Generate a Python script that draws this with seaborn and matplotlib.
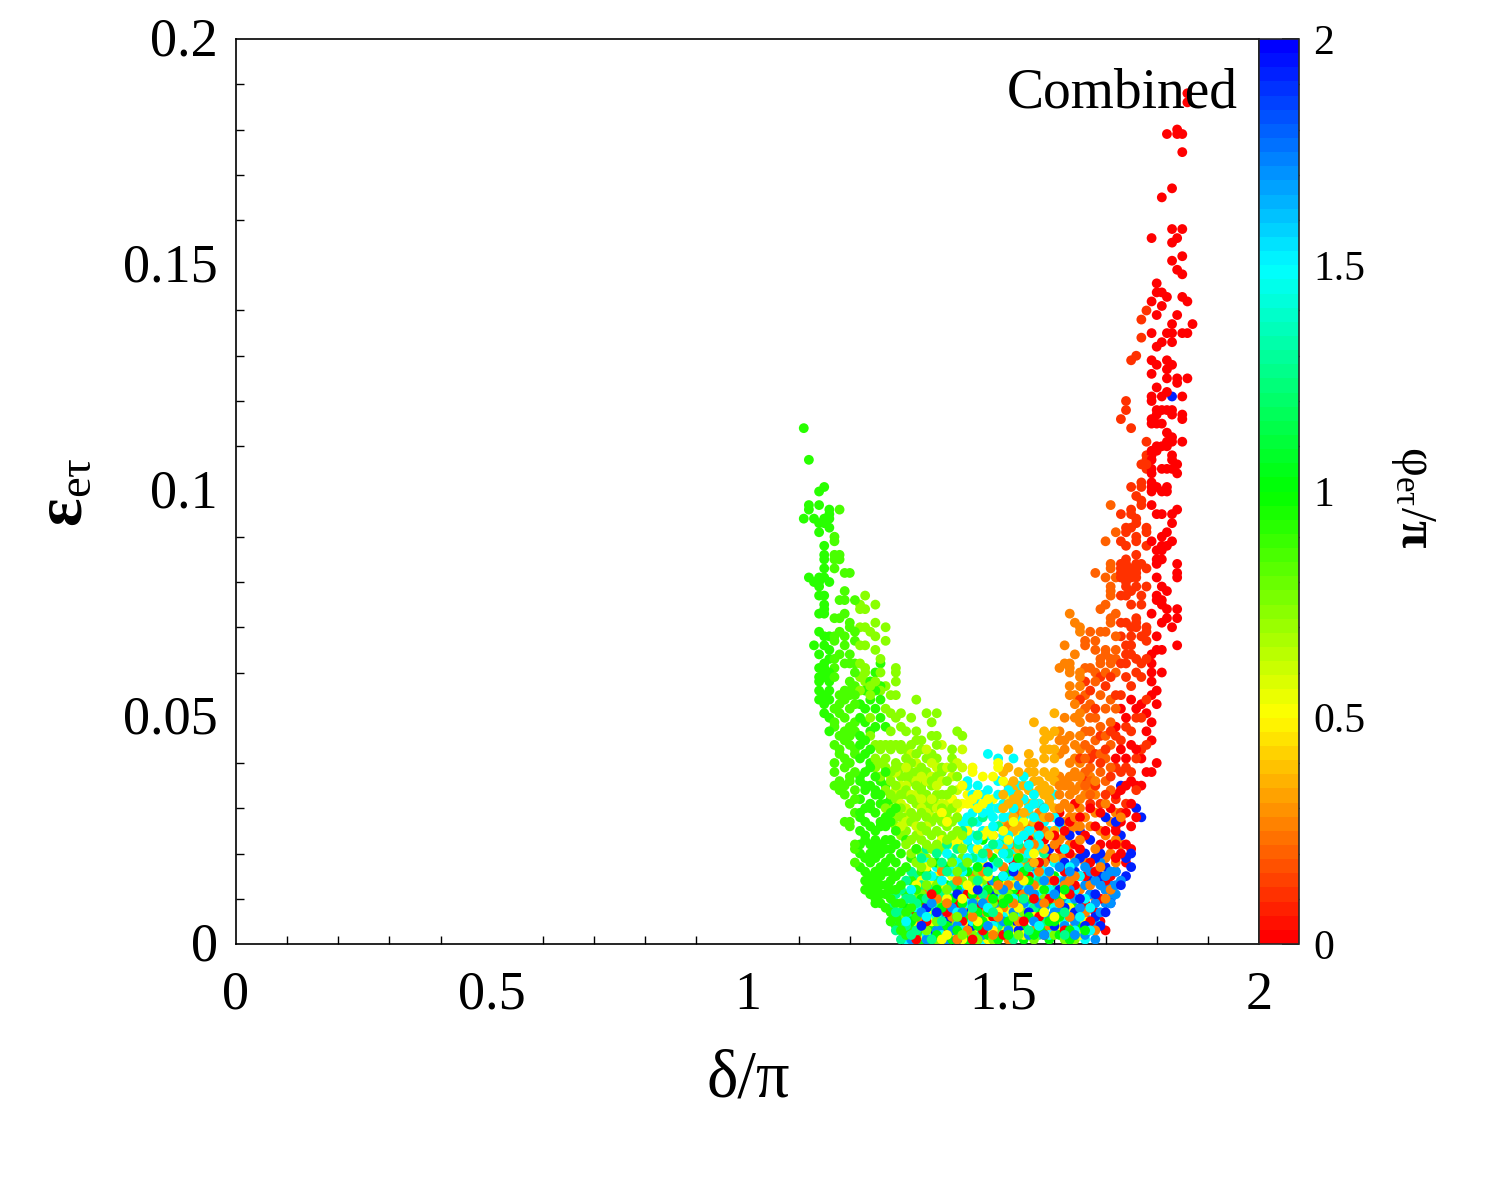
#!/usr/bin/env python3
"""Combined scatter of eps_etau vs delta, coloured by phi_etau."""
import numpy as np
import pandas as pd
import matplotlib
matplotlib.use("Agg")
import matplotlib.pyplot as plt
import seaborn as sns
from matplotlib.cm import ScalarMappable
from matplotlib.colors import LinearSegmentedColormap, Normalize
from matplotlib.transforms import ScaledTranslation

x_ticks = [0, 0.5, 1, 1.5, 2]
x_tick_labels = ["0", "0.5", "1", "1.5", "2"]
y_ticks = [0, 0.05, 0.1, 0.15, 0.2]
y_tick_labels = ["0", "0.05", "0.1", "0.15", "0.2"]
cbar_ticks = [0, 0.5, 1, 1.5, 2]
cbar_tick_labels = ["0", "0.5", "1", "1.5", "2"]
cmap_colors = ["#ff0000", "#ffff00", "#00ff00", "#00ffff", "#0000ff"]

# each band: phi/pi value, then delta/pi -> eps in units of 0.001
green_left = {
    1.11: [114, 94], 1.12: [107, 97, 96, 81], 1.13: [94, 80, 66],
    1.14: [100, 97, 93, 91, 81, 80, 79, 77, 73, 69, 64, 61, 59, 58, 56, 54],
    1.15: [101, 94, 93, 88, 86, 85, 83, 81, 77, 75, 74, 73, 68, 66, 62, 61, 60, 59, 55, 53, 51],
    1.16: [96, 95, 94, 92, 80, 68, 65, 63, 60, 58, 56, 54, 50, 47],
}
green_mid = {
    1.17: [90, 89, 86, 85, 83, 72, 68, 67, 63, 61, 59, 52, 49, 48, 44, 40, 38, 35],
    1.18: [96, 86, 85, 76, 72, 69, 64, 55, 53, 51, 46, 43, 42, 36, 34],
    1.19: [82, 78, 76, 73, 68, 66, 62, 56, 54, 50, 47, 45, 41, 39, 35, 33, 27],
    1.20: [82, 71, 70, 64, 62, 58, 56, 55, 52, 48, 46, 44, 40, 37, 36, 31, 27, 26],
    1.21: [76, 69, 67, 62, 60, 57, 55, 53, 49, 47, 43, 42, 38, 34, 32, 29, 22, 21, 18],
}
green_body = {
    1.22: [53, 50, 46, 44, 41, 37, 36, 32, 29, 28, 25, 22, 20, 17],
    1.23: [56, 52, 49, 45, 42, 38, 35, 34, 30, 27, 24, 23, 19, 16, 14, 12],
    1.24: [58, 54, 47, 43, 40, 39, 35, 31, 30, 26, 22, 20, 18, 15, 13, 11],
    1.25: [60, 56, 52, 48, 37, 34, 33, 29, 25, 23, 21, 19, 16, 14, 12, 10, 9],
    1.26: [62, 57, 54, 50, 36, 33, 31, 27, 26, 22, 20, 17, 15, 13, 11, 9],
    1.27: [48, 38, 35, 31, 28, 26, 23, 21, 18, 16, 13, 11, 8],
    1.28: [32, 29, 27, 23, 21, 19, 16, 14, 12, 10, 7, 5],
    1.29: [30, 25, 22, 18, 15, 12, 9, 6, 4],
    1.30: [20, 16, 13, 9, 5, 3], 1.31: [23, 17, 11, 7, 2], 1.32: [19, 14, 8, 4, 1],
    1.33: [21, 12, 6, 2], 1.34: [16, 9, 3],
}
lime_top = {
    1.22: [75, 74, 70, 66, 62, 59, 56], 1.23: [77, 74, 70, 66, 61, 60, 58],
    1.24: [69, 58, 57, 55, 50, 46], 1.25: [75, 71, 68, 65, 58, 44, 41, 39],
    1.26: [63, 60, 56, 44, 43, 40, 37], 1.27: [70, 67, 57, 52, 44, 41, 39, 34, 30],
    1.28: [55, 51, 47, 44, 43, 38, 36, 33, 30], 1.29: [61, 60, 58, 55, 50, 44, 40, 39, 35, 32, 28, 26],
    1.30: [51, 48, 44, 43, 39, 37, 33, 30, 28, 24], 1.31: [47, 43, 41, 37, 34, 33, 28, 25, 22],
    1.32: [50, 44, 40, 38, 36, 32, 29, 27, 23, 20],
    1.33: [54, 47, 45, 42, 38, 35, 31, 28, 24, 21, 18],
    1.34: [45, 43, 39, 35, 34, 29, 26, 23, 20, 17], 1.35: [51, 41, 38, 33, 31, 28, 25, 22, 19],
    1.36: [49, 46, 42, 36, 35, 30, 27, 24, 21, 18], 1.37: [51, 46, 44, 41, 37, 33, 31, 28, 25, 22],
    1.38: [39, 38, 33, 30, 27, 24, 21], 1.39: [36, 33, 29, 26, 23],
    1.40: [43, 41, 39, 34, 30, 27, 24], 1.41: [47, 37, 28, 25, 22], 1.42: [46, 24, 21],
}
lime_yellow = {
    1.28: [37, 32, 27], 1.29: [38, 34, 29], 1.30: [35, 31, 26], 1.31: [39, 35, 30, 27],
    1.32: [42, 37, 33, 28], 1.33: [40, 36, 33, 26], 1.34: [37, 32, 30, 25], 1.35: [43, 36, 29, 26],
    1.36: [40, 37, 32, 28], 1.37: [39, 35, 30], 1.38: [44, 36, 31], 1.39: [39, 31, 28],
    1.40: [37, 32], 1.41: [40, 34, 31], 1.42: [43, 39, 35],
}
lime_low = {
    1.31: [6], 1.33: [10], 1.34: [11], 1.35: [13, 3], 1.36: [10], 1.37: [13, 5, 1], 1.38: [17, 9],
    1.39: [12], 1.40: [18, 4], 1.41: [16, 6], 1.42: [19, 14, 2], 1.43: [18, 10], 1.44: [14, 7, 2],
    1.45: [16, 9, 1], 1.46: [14, 4], 1.47: [11, 3], 1.48: [9, 1], 1.49: [12, 2], 1.50: [10],
    1.51: [11, 4], 1.52: [6], 1.53: [2], 1.54: [7], 1.56: [1], 1.57: [5], 1.58: [10], 1.60: [2],
    1.62: [1], 1.64: [1],
}
yellow_low = {
    1.32: [7], 1.33: [13, 5], 1.34: [14, 2], 1.35: [17, 7], 1.36: [13, 5], 1.37: [15, 4],
    1.38: [29, 23, 13, 1], 1.39: [27, 16, 10, 2], 1.40: [32, 22, 15, 7],
    1.41: [30, 23, 11, 2], 1.42: [35, 31, 22, 10, 1], 1.43: [33, 31, 25, 13, 5],
    1.44: [39, 38, 32, 31, 24, 12, 3], 1.45: [33, 30, 21, 13, 5],
    1.46: [37, 31, 24, 18, 10], 1.47: [32, 25, 15, 6, 1],
    1.48: [37, 32, 24, 12, 3], 1.49: [40, 39, 30, 21, 7], 1.50: [36, 25, 14, 4],
    1.51: [33, 23, 7], 1.52: [27, 13, 3], 1.53: [24, 8], 1.54: [27, 14, 2], 1.55: [11],
    1.56: [20, 6], 1.57: [13], 1.58: [7], 1.59: [15], 1.60: [6], 1.61: [4], 1.62: [11],
    1.63: [8], 1.65: [2], 1.66: [5],
}
amber_mid = {
    1.50: [38, 33, 30, 27, 24, 21], 1.51: [43, 39, 35, 31], 1.52: [36, 34, 32, 29, 28, 25, 19],
    1.53: [38, 33, 31, 26, 21], 1.54: [35, 32, 29, 26, 24, 18], 1.55: [42, 40, 38, 34, 31, 29, 24, 20],
    1.56: [49, 40, 38, 36, 33, 31, 27, 18], 1.57: [36, 34, 31, 25, 21], 1.58: [47, 45, 43, 41, 38, 35, 33, 28, 21],
    1.59: [46, 43, 37, 34, 32, 31, 24], 1.60: [51, 47, 43, 41, 38, 36, 33, 30, 25, 19],
}
orange_up = {
    1.61: [61, 47, 45, 42, 37, 35, 33, 27, 23], 1.62: [66, 62, 50, 45, 43, 36, 35, 31, 24, 20],
    1.63: [73, 62, 61, 60, 57, 55, 46, 40, 37, 35, 33, 28, 25],
    1.64: [71, 64, 55, 53, 50, 44, 41, 38, 37, 34, 28, 19],
    1.65: [70, 69, 60, 59, 57, 51, 49, 46, 43, 40, 37, 35, 32, 26],
}
orange_low = {
    1.34: [5], 1.35: [12], 1.37: [10], 1.38: [16, 4], 1.39: [9], 1.40: [6], 1.41: [14, 1],
    1.42: [8], 1.43: [3], 1.44: [15, 6], 1.45: [11, 1], 1.46: [16, 7], 1.47: [20, 10],
    1.48: [24, 2], 1.49: [13, 6], 1.50: [17, 8], 1.51: [26, 13, 1], 1.52: [22, 9],
    1.53: [29, 15, 5], 1.54: [21, 11], 1.55: [26, 18], 1.56: [22, 13, 3], 1.57: [29, 16],
    1.58: [25, 18, 9], 1.59: [28, 14, 4], 1.60: [22, 10], 1.61: [30, 19, 9], 1.62: [27, 13],
    1.63: [30, 22, 14, 6], 1.64: [26, 15, 4], 1.65: [30, 23, 12], 1.66: [33, 28, 18, 7],
    1.67: [37, 34, 26, 13, 4], 1.68: [36, 33, 29, 21, 10, 3], 1.69: [25, 17], 1.70: [31, 24, 19, 10],
    1.71: [27, 20, 12], 1.72: [29, 23, 18], 1.73: [28, 22],
}
orange_red = {
    1.66: [67, 66, 61, 55, 52, 47, 44, 41, 38, 35], 1.67: [69, 61, 53, 50, 47, 43, 39, 36, 33],
    1.68: [82, 67, 65, 60, 58, 50, 45], 1.69: [74, 69, 63, 62, 55, 48, 42, 38],
    1.70: [89, 81, 75, 69, 65, 64, 60, 52, 46, 41, 36],
    1.71: [97, 84, 83, 79, 78, 77, 72, 71, 63, 62, 54, 49, 44, 39, 34],
    1.72: [91, 81, 73, 68, 65, 63, 60, 52],
}
red_orange = {
    1.65: [54, 41], 1.66: [58, 36], 1.67: [56, 41, 31], 1.68: [52, 42, 35],
    1.69: [59, 46, 40, 31], 1.70: [57, 43, 33],
    1.71: [59, 47, 37], 1.72: [55, 46, 39, 32],
    1.73: [116, 95, 89, 84, 83, 82, 81, 77, 71, 68, 62, 55, 45, 38, 29],
    1.74: [120, 118, 92, 91, 88, 85, 84, 82, 80, 79, 77, 71, 66, 64, 62, 59, 48, 39, 31],
    1.75: [129, 114, 101, 96, 95, 92, 83, 81, 78, 75, 70, 68, 66, 64, 57, 47, 38],
    1.76: [130, 99, 94, 93, 90, 89, 86, 84, 83, 82, 81, 79, 72, 71, 70, 63, 60, 50, 41, 34],
    1.77: [138, 134, 106, 102, 101, 98, 97, 84, 77, 75, 68, 62, 59, 50, 43],
    1.78: [140, 111, 108, 107, 106, 105, 92, 91, 88, 83, 79, 70, 69, 67, 63, 54, 44],
}
red_top = {
    1.72: [48, 41, 33, 26, 22], 1.73: [52, 43, 34, 27, 20],
    1.74: [50, 41, 35, 29, 22, 18], 1.75: [54, 44, 36, 31, 26, 21],
    1.76: [52, 43, 35, 28], 1.77: [53, 41, 35], 1.78: [51, 47, 38],
    1.79: [156, 142, 135, 129, 126, 121, 120, 116, 115, 109, 108, 107, 105, 104, 102, 101, 100, 97,
           89, 73, 64, 62, 60, 58, 55, 49, 45, 38],
    1.80: [146, 144, 139, 132, 128, 123, 118, 117, 115, 110, 109, 101, 95, 87, 85, 84, 81, 77, 76,
           68, 65, 56, 53, 40],
    1.81: [165, 144, 141, 133, 121, 118, 115, 110, 105, 100, 95, 90, 88, 87, 85, 79, 76, 75, 71, 65, 60],
    1.82: [179, 143, 135, 129, 127, 125, 122, 118, 113, 111, 110, 105, 101, 100, 91, 88, 78, 74, 72],
    1.83: [167, 158, 155, 151, 137, 135, 133, 128, 118, 117, 112, 111, 108, 107, 105, 95, 93, 89, 70],
    1.84: [180, 179, 156, 149, 139, 125, 124, 106, 104, 96, 84, 82, 81, 74, 72, 66],
    1.85: [179, 175, 158, 152, 148, 143, 135, 121, 117, 116, 111],
    1.86: [188, 186, 142, 135, 125], 1.87: [137],
}
red_low = {
    1.33: [7, 1], 1.35: [9, 5], 1.36: [11, 3], 1.37: [1], 1.38: [10], 1.39: [7, 3], 1.40: [2],
    1.41: [9], 1.42: [5], 1.43: [11], 1.44: [1], 1.45: [8], 1.46: [3], 1.47: [13], 1.48: [6],
    1.49: [10], 1.50: [2], 1.52: [18], 1.53: [11], 1.54: [5], 1.55: [23, 15], 1.56: [10],
    1.57: [26, 18, 6], 1.58: [30, 23, 2], 1.59: [19, 10], 1.60: [24, 14], 1.61: [29, 21, 6],
    1.62: [25, 16, 3], 1.63: [27, 20, 11], 1.64: [31, 22, 13], 1.65: [28, 21, 7], 1.66: [24, 15, 9],
    1.67: [30, 18, 11, 5], 1.68: [26, 16, 7], 1.69: [29, 22, 10, 5], 1.70: [25, 14, 3],
    1.71: [30, 22, 15], 1.72: [25, 19],
}
true_green = {
    1.31: [8, 3], 1.32: [5], 1.34: [10, 1], 1.35: [16, 8], 1.36: [4], 1.37: [18, 12, 7, 2], 1.38: [8],
    1.39: [17, 13, 9, 4], 1.40: [10, 1], 1.41: [12, 6, 3, 1], 1.42: [9], 1.43: [16, 11, 6, 1], 1.44: [11, 2],
    1.45: [17, 12, 7, 4], 1.46: [23, 5], 1.47: [12, 7, 2], 1.48: [19, 10], 1.49: [14, 6, 1],
    1.50: [20, 9, 3], 1.51: [16, 10, 5, 2], 1.52: [12, 2], 1.53: [19, 10, 6], 1.54: [16, 4, 1],
    1.55: [14, 10, 6], 1.56: [11, 2], 1.57: [18, 7, 3], 1.58: [12, 3], 1.59: [9, 5, 1], 1.60: [15, 5],
    1.61: [10, 6, 2], 1.62: [12, 4], 1.63: [6, 3, 1], 1.64: [8, 2], 1.65: [4], 1.66: [3],
}
spring = {
    1.28: [12, 8, 5], 1.29: [11, 7, 3], 1.30: [12, 7, 1], 1.31: [14, 10, 4], 1.32: [16, 10, 6, 2],
    1.33: [15, 9, 3], 1.34: [19, 13, 6], 1.35: [21, 15, 10, 4], 1.36: [18, 12, 7, 1], 1.37: [20, 14, 9],
    1.38: [18, 11, 5], 1.39: [22, 16, 8], 1.40: [19, 13, 3], 1.41: [21, 15, 9], 1.42: [25, 17, 6],
    1.43: [22, 12], 1.44: [27, 19, 8], 1.45: [24, 14, 3], 1.46: [28, 20, 11], 1.47: [25, 16],
    1.48: [22, 7], 1.49: [26, 18, 4], 1.50: [23, 12], 1.51: [20, 9], 1.52: [25, 15, 1], 1.53: [22, 6],
    1.54: [19, 10], 1.55: [17, 3], 1.56: [24, 8], 1.57: [14, 2], 1.58: [20, 5], 1.60: [12], 1.62: [7, 2],
}
cyan = {
    1.31: [5, 1], 1.32: [12, 3], 1.33: [8, 1], 1.34: [12, 4], 1.35: [18, 6, 2], 1.36: [15, 9],
    1.37: [17, 6], 1.38: [14, 2], 1.39: [20, 11], 1.40: [16, 5], 1.41: [18, 7], 1.42: [27, 21, 16, 12, 3],
    1.43: [36, 35, 28, 26, 23, 19, 9], 1.44: [33, 29, 24, 21, 16, 5], 1.45: [35, 31, 27, 23, 19, 15, 10],
    1.46: [33, 29, 25, 19, 13, 1], 1.47: [42, 34, 31, 29, 24, 21, 17, 8], 1.48: [30, 28, 26, 22, 17, 4],
    1.49: [41, 36, 33, 30, 26, 22, 18, 11], 1.50: [31, 28, 24, 20, 15, 6], 1.51: [34, 28, 24, 22, 19, 15, 2],
    1.52: [41, 33, 30, 26, 21, 17, 10], 1.53: [35, 27, 23, 20, 17, 7], 1.54: [37, 32, 28, 24, 20, 13, 3],
    1.55: [35, 30, 25, 22, 20, 9], 1.56: [33, 31, 28, 25, 21, 15], 1.57: [31, 28, 24, 22, 17, 11, 4],
    1.58: [30, 27, 16], 1.59: [25, 12, 2], 1.60: [33, 28, 18, 8], 1.61: [26, 14], 1.62: [21, 5],
    1.63: [17, 9], 1.64: [12, 3], 1.65: [15, 6], 1.66: [10, 1], 1.67: [8, 3], 1.68: [5],
}
sky = {
    1.32: [1], 1.33: [3], 1.34: [7], 1.35: [1], 1.36: [9, 6], 1.37: [3], 1.38: [7, 4], 1.39: [1], 1.40: [8, 3],
    1.41: [4], 1.42: [11, 7], 1.43: [2], 1.44: [13, 9], 1.45: [6], 1.46: [9, 2], 1.47: [4], 1.48: [14, 7],
    1.49: [8], 1.50: [12, 5], 1.51: [3], 1.52: [10, 7], 1.53: [13], 1.54: [9, 2], 1.55: [12, 2],
    1.56: [17, 11, 5], 1.57: [9], 1.58: [14, 8, 2], 1.59: [16, 6], 1.60: [11, 7, 3], 1.61: [17, 7],
    1.62: [14, 10, 4], 1.63: [16, 12, 3], 1.64: [18, 10, 5, 2], 1.65: [15, 8], 1.66: [17, 13, 6, 2],
    1.67: [16, 11, 3], 1.68: [14, 9, 4, 1], 1.69: [18, 13, 7], 1.70: [15, 12, 9], 1.71: [16, 13, 10, 9],
    1.72: [16, 13, 11], 1.73: [14],
}
blue = {
    1.34: [4], 1.35: [8], 1.36: [2], 1.37: [7], 1.39: [5], 1.41: [11, 1], 1.43: [7], 1.44: [4],
    1.45: [12], 1.47: [17], 1.48: [11, 3], 1.49: [5], 1.50: [15], 1.52: [16, 5], 1.53: [3], 1.54: [12],
    1.55: [7], 1.56: [18], 1.58: [11], 1.59: [21], 1.60: [4], 1.61: [27, 12], 1.62: [18, 8],
    1.63: [24, 2], 1.64: [16, 7], 1.65: [25, 19, 10], 1.66: [20, 4], 1.67: [23, 14, 8], 1.68: [19, 11, 6],
    1.69: [20, 15, 4], 1.70: [28, 17, 12, 7], 1.71: [10, 9], 1.72: [27, 16], 1.73: [35, 24, 13],
    1.74: [19, 15], 1.75: [20, 17], 1.76: [30], 1.77: [28], 1.83: [121],
}

bands = [
    (0.93, green_left), (0.85, green_mid), (0.92, green_body), (0.72, lime_top), (0.62, lime_yellow),
    (0.75, lime_low), (0.52, yellow_low), (0.35, amber_mid), (0.28, orange_up), (0.27, orange_low),
    (0.2, orange_red), (0.1, red_orange), (0.03, red_top), (0.03, red_low), (1.03, true_green),
    (1.27, spring), (1.48, cyan), (1.7, sky), (1.93, blue),
]

rows = []
for phi, band in bands:
    for delta, eps_list in band.items():
        for e in eps_list:
            rows.append((delta, e * 0.001, phi))
df = pd.DataFrame(rows, columns=["delta", "eps", "phi"])
# mix the bands so no single colour is always drawn last
df["order"] = (np.round(df["delta"] * 100) * 37 + np.round(df["eps"] * 1000) * 61 + df["phi"] * 100 * 17) % 101
df = df.sort_values("order")

sns.set_theme(style="white")
plt.rcParams["font.family"] = ["Liberation Serif", "DejaVu Serif"]
plt.rcParams["text.color"] = "black"
plt.rcParams["xtick.color"] = "black"
plt.rcParams["ytick.color"] = "black"
plt.rcParams["mathtext.fontset"] = "custom"
plt.rcParams["mathtext.rm"] = "Liberation Serif"
plt.rcParams["mathtext.bf"] = "Liberation Serif:bold"
plt.rcParams["mathtext.default"] = "rm"

cmap = LinearSegmentedColormap.from_list("rygcb", cmap_colors, N=64)
norm = Normalize(0, 2)

fig = plt.figure(figsize=(14.96, 11.81), dpi=100)
ax = fig.add_axes([236 / 1496, 1 - 944 / 1181, (1259 - 236) / 1496, (944 - 39) / 1181])
cax = fig.add_axes([1259 / 1496, 1 - 944 / 1181, 40 / 1496, (944 - 39) / 1181])

sns.scatterplot(data=df, x="delta", y="eps", hue="phi", palette=cmap, hue_norm=norm,
                s=50, linewidth=0, legend=False, zorder=3, ax=ax)

ax.set_xlim(0, 2)
ax.set_ylim(0, 0.2)
ax.set_xticks(x_ticks, x_tick_labels)
ax.set_yticks(y_ticks, y_tick_labels)
ax.set_xticks(np.arange(0, 2.01, 0.1), minor=True)
ax.set_yticks(np.arange(0, 0.201, 0.01), minor=True)
ax.tick_params(axis="x", which="major", direction="in", length=12, width=1.2, labelsize=39, pad=19)
ax.tick_params(axis="y", which="major", direction="in", length=12, width=1.2, labelsize=39, pad=13)
ax.tick_params(which="minor", direction="in", length=6, width=1, bottom=True, left=True)
# y labels sit a little higher than matplotlib centres them
shift_up = ScaledTranslation(0, 3 / 100, fig.dpi_scale_trans)
for lab in ax.get_yticklabels():
    lab.set_transform(lab.get_transform() + shift_up)
for s in ax.spines.values():
    s.set_linewidth(1.2)
    s.set_color("black")

ax.set_xlabel("")
ax.set_ylabel("")
fig.text(748 / 1496, 1 - 1080 / 1181, "δ/π", fontsize=48, ha="center", va="center")
fig.text(65 / 1496, 1 - 492 / 1181, "$\\mathbf{ε}$$_{\\mathrm{eτ}}$", fontsize=48, rotation=90,
         ha="center", va="center")
fig.text(1238 / 1496, 1 - 107 / 1181, "Combined", fontsize=40, ha="right", va="baseline", zorder=0)

cb = fig.colorbar(ScalarMappable(norm=norm, cmap=cmap), cax=cax)
cb.set_ticks(cbar_ticks, labels=cbar_tick_labels)
cax.set_yticks(np.arange(0, 2.01, 0.1), minor=True)
cax.tick_params(which="major", direction="in", length=12, width=1.2, labelsize=30, pad=10, colors="black")
cax.tick_params(which="minor", direction="in", length=6, width=1, colors="black")
cb.outline.set_linewidth(1.2)
fig.text(1413 / 1496, 1 - 497 / 1181, "φ$_{\\mathrm{eτ}}$/$\\mathbf{π}$", fontsize=36, rotation=270,
         ha="center", va="center")

fig.savefig("out.png", dpi=100)
